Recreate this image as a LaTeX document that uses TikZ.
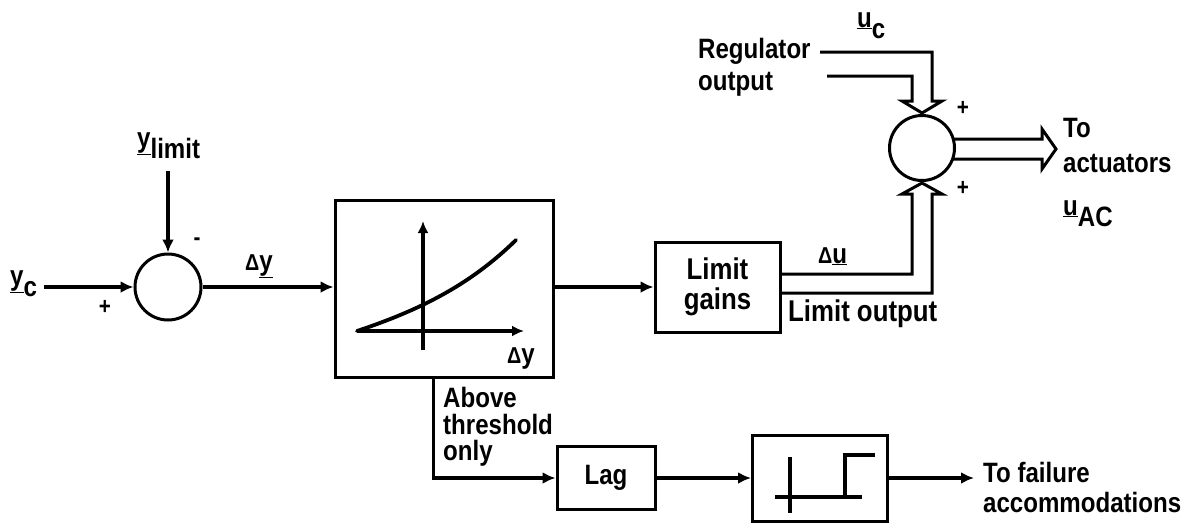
\documentclass[tikz,border=0pt]{standalone}
\usepackage{fontspec}
\setmainfont{Liberation Sans}[FakeStretch=0.86]
\usetikzlibrary{arrows.meta,calc}
\newcommand\lsub[1]{\raisebox{-0.42em}{#1}}
\newcommand\dlt{{\fontsize{23}{23}\selectfont Δ}}
\newcommand\lbl{\fontsize{28}{32}\selectfont\bfseries}
\newcommand\lblb{\fontsize{30}{30}\selectfont\bfseries}
\begin{document}
\begin{tikzpicture}[x=1pt,y=-1pt,
  every node/.style={font=\lbl},
  blk/.style={draw,line width=3pt,inner sep=0pt},
  sumc/.style={draw,circle,line width=3pt,inner sep=0pt,minimum size=#1},
  conn/.style={line width=3.8pt,-{Latex[length=13pt,width=12pt]}},
  plain/.style={line width=3.8pt},
  dbl/.style={line width=3pt,line join=miter},
  txt/.style={inner sep=0pt,anchor=base west},
  sgn/.style={inner sep=0pt,font=\fontsize{24}{24}\selectfont\bfseries},
]
\useasboundingbox (0,0) rectangle (1186,523);

% blocks
\node[sumc=66pt] (s1) at (168,287) {};
\node[blk,minimum width=218pt,minimum height=177pt] (nl) at (444,288.5) {};
\node[blk,minimum width=125pt,minimum height=90pt,align=center,font=\lblb] (lg) at (717.5,287) {Limit\\gains};
\node[blk,minimum width=98pt,minimum height=63pt] (lag) at (606,478) {Lag};
\node[blk,minimum width=135pt,minimum height=86pt] (sw) at (820,478) {};
\node[sumc=65pt] (s2) at (922,148) {};

% labels
\node[txt] (yc) at (10,285) {\underline{y}\lsub{c}};
\node[txt] (ylim) at (137,147) {\underline{y}\lsub{limit}};
\node[sgn] (m1) at (197,242) {-};
\node[sgn] (p1) at (105,307) {+};
\node[txt] (dy) at (245,270) {\dlt\underline{y}};
\node[txt] (dyax) at (507,363) {\dlt y};
\node[txt] (ab1) at (443,407) {Above};
\node[txt] (ab2) at (443,434) {threshold};
\node[txt] (ab3) at (443,460) {only};
\node[txt] (reg1) at (698,58) {Regulator};
\node[txt] (reg2) at (698,90) {output};
\node[txt] (uc) at (857,27) {\underline{u}\lsub{c}};
\node[sgn] (p2) at (963,108) {+};
\node[sgn] (p3) at (963,188) {+};
\node[txt] (ta1) at (1063,137) {To};
\node[txt] (ta2) at (1063,172) {actuators};
\node[txt] (uac) at (1063,215) {\underline{u}\lsub{AC}};
\node[txt] (du) at (818,263) {\dlt\underline{u}};
\node[txt,font=\lblb] (lo) at (788,321) {Limit output};
\node[txt] (tf1) at (983,482) {To failure};
\node[txt] (tf2) at (983,512) {accommodations};

% connectors
\draw[conn] (s1.west -| yc.east) ++(7,0) -- (s1.west);
\draw[conn] (s1.north |- ylim.south) ++(0,12) -- (s1.north);
\draw[conn] (s1.east) -- (s1.east -| nl.west);
\draw[conn] (lg.west -| nl.east) -- (lg.west);
\coordinate (tap) at ($(nl.south west)+(100,0)$);
\draw[conn] (tap) |- (lag.west);
\draw[conn] (lag.east) -- (sw.west);
\draw[conn] (sw.east) -- ++(85,0) coordinate (fa);

% double-line paths
\draw[dbl] ($(lg.east)+(0,-13)$) -- (912,274) -- (912,194) -- (902,194) -- ($(s2.south)+(0,1)$)
  -- (942,194) -- (932,194) -- (932,293) -- ($(lg.east)+(0,6)$);
\draw[dbl] (820,52) -- (932,52) -- (932,101) -- (942,101) -- ($(s2.north)+(0,-1)$)
  -- (902,101) -- (912,101) -- (912,76) -- (827,76);
\draw[dbl] ($(s2.center)+(31.2,-9)$) -- (1042,139) -- (1042,129) -- (1056,149)
  -- (1042,169) -- (1042,159) -- ($(s2.center)+(31.2,11)$);

% graph inside nonlinear block
\draw[plain,-{Latex[length=12pt,width=11pt]}] (423,350) -- (423,221);
\draw[plain,-{Latex[length=12pt,width=11pt]}] (357,331) -- (524,331);
\draw[plain,line cap=round] (357,331) .. controls (420,310) and (470,285) .. (516,240);

% step inside switch block
\draw[plain] (790,457) -- (790,513);
\draw[plain] (775,497) -- (862,497);
\draw[plain] (845,497) -- (845,455) -- (875,455);
\end{tikzpicture}
\end{document}
